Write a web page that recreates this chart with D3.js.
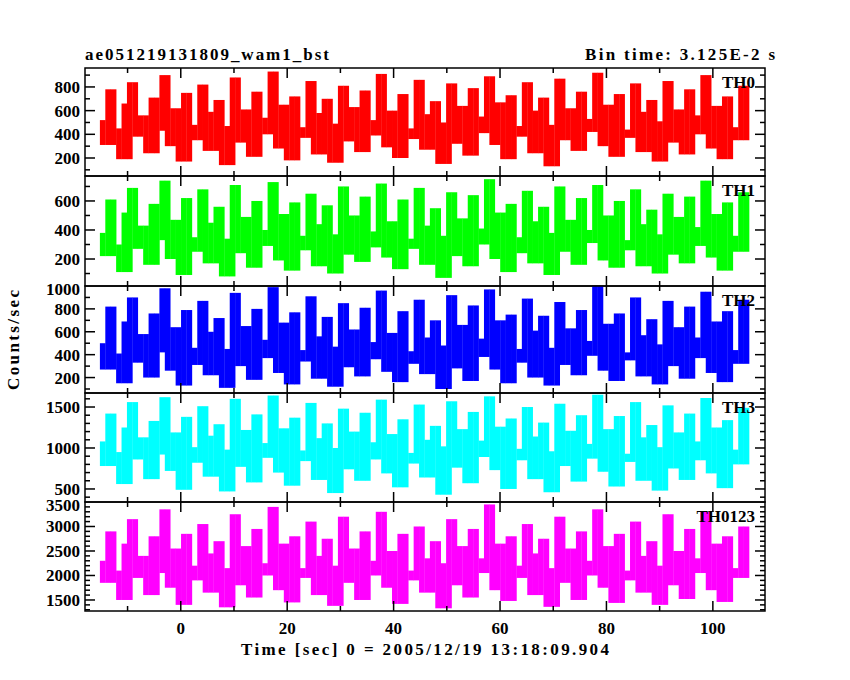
<!DOCTYPE html>
<html><head><meta charset="utf-8">
<script src="https://cdn.jsdelivr.net/npm/d3@7"></script>
<style>body{margin:0;background:#fff}text{font-family:"Liberation Serif",serif;font-size:17px;font-weight:bold;fill:#000}</style>
</head><body><svg id="c" width="850" height="680"></svg>
<script>
// Light curve counts per panel (hand read, resampled coarse).
var th0 = [520,310,780,450,190,660,840,380,560,240,710,430,900,300,620,170,750,480,350,820,260,590,690,140,470,880,330,610,210,760,540,400,930,280,650,180,720,460,370,850,230,580,700,160,490,810,340,630,250,770,520,390,910,290,600,200,740,450,360,860,270,570,680,150,500,830,320,640,220,790,550,410,890,310,670,190,730,470,380,840,240,600,710,130,480,870,350,620,260,760,530,420,920,300,650,210,740,440,370,830,250,590,690,170,510,850,330,610,230,780,560,400,900,280,640,190,720,460,350,810];
var th1 = [380,220,610,300,110,520,690,270,430,160,580,330,740,200,470,90,620,350,250,680,170,450,560,80,340,710,240,490,140,600,400,290,730,190,510,120,590,360,260,650,150,440,570,100,370,700,230,500,180,630,390,280,720,210,460,130,610,340,270,690,160,430,550,70,360,660,220,480,150,640,410,300,750,200,520,110,580,350,240,670,170,460,560,90,380,700,250,470,160,620,400,310,710,190,500,140,600,330,260,680,150,440,540,100,370,650,230,490,170,630,420,290,740,210,510,120,590,360,250,660];
var th2 = [500,270,820,410,150,690,900,330,580,200,760,420,980,260,640,130,790,460,310,870,220,600,720,110,450,940,300,650,180,800,530,370,990,240,680,140,770,440,340,910,190,560,730,120,470,850,290,620,210,810,510,360,960,250,590,160,780,430,320,880,230,550,700,100,480,920,280,660,170,830,540,380,970,270,700,150,750,450,330,890,200,610,740,130,460,860,310,630,220,790,520,390,1000,260,670,170,760,420,350,900,210,570,710,140,490,870,300,640,190,820,550,370,950,240,690,160,780,440,320,880];
var th3 = [1080,780,1420,950,560,1250,1560,860,1130,620,1330,920,1620,720,1190,490,1380,1010,820,1510,650,1150,1290,470,980,1600,770,1220,580,1410,1060,880,1640,700,1240,540,1370,970,840,1550,610,1120,1300,450,1000,1480,740,1200,600,1430,1070,860,1590,690,1170,520,1350,940,810,1530,640,1100,1270,430,1020,1570,760,1230,570,1440,1090,890,1630,730,1260,500,1360,990,850,1500,620,1140,1310,460,960,1540,780,1210,590,1400,1050,870,1650,710,1230,530,1390,930,830,1560,600,1130,1280,480,1010,1520,750,1190,610,1420,1080,850,1610,690,1250,510,1340,980,800,1490];
var th0123 = [2300,1850,2900,2100,1500,2650,3150,1950,2400,1600,2800,2050,3350,1750,2550,1400,2850,2200,1900,3050,1650,2450,2700,1350,2150,3250,1800,2600,1550,2950,2250,2000,3400,1700,2650,1450,2800,2150,1950,3100,1600,2400,2750,1380,2200,3200,1850,2550,1500,2900,2300,2000,3300,1750,2500,1420,2850,2100,1900,3000,1650,2350,2700,1330,2250,3150,1800,2600,1550,2950,2350,2050,3450,1700,2650,1480,2800,2200,1950,3050,1600,2450,2750,1360,2150,3200,1850,2550,1500,2900,2300,2000,3350,1750,2600,1440,2850,2100,1900,3100,1650,2400,2700,1400,2200,3250,1800,2500,1520,2950,2350,2050,3300,1700,2650,1460,2800,2150,1950,3000];

var panelNames = ['TH0', 'TH1', 'TH2', 'TH3', 'TH0123'];
var panelData = [th0, th1, th2, th3, th0123];
var panelColors = ['#ff0000', '#00ff00', '#0000ff', '#00ffff', '#ff00ff'];
var panelDomains = [[48, 960], [14, 772], [65, 1000], [341, 1671], [1275, 3500]];
var panelTicks = [[200, 400, 600, 800], [200, 400, 600], [200, 400, 600, 800, 1000], [500, 1000, 1500], [1500, 2000, 2500, 3000, 3500]];
var panelMinor = [100, 100, 100, 100, 100];
var tStart = -15.2, tEnd = 106.8;
var xTicks = [0, 20, 40, 60, 80, 100];

var svg = d3.select('#c');
var left = 85, right = 765;
var edges = [68, 176, 286, 393, 502, 611];
var x = d3.scaleLinear().domain([-18, 109.8]).range([left, right]);

panelData.forEach(function(vals, p) {
  var top = edges[p], bot = edges[p + 1];
  var y = d3.scaleLinear().domain(panelDomains[p]).range([bot, top]);
  var dt = (tEnd - tStart) / vals.length;
  var g = svg.append('g');
  g.append('clipPath').attr('id', 'cl' + p).append('rect')
    .attr('x', left).attr('y', top).attr('width', right - left).attr('height', bot - top);
  // each bin drawn as the band its neighbours span (dense light curve look)
  var bins = vals.map(function(v, i) {
    return {
      t: tStart + i * dt,
      lo: d3.min(vals.slice(Math.max(0, i - 1), i + 2)),
      hi: d3.max(vals.slice(i, i + 2))
    };
  });
  g.append('g').attr('clip-path', 'url(#cl' + p + ')')
    .selectAll('rect').data(bins).enter().append('rect')
    .attr('x', function(d) { return x(d.t); })
    .attr('width', x(tStart + dt) - x(tStart) + 0.3)
    .attr('y', function(d) { return y(d.hi); })
    .attr('height', function(d) { return Math.max(1, y(d.lo) - y(d.hi)); })
    .attr('fill', panelColors[p]);

  // y ticks both sides, inside
  var minors = d3.range(Math.ceil(panelDomains[p][0] / panelMinor[p]) * panelMinor[p], panelDomains[p][1], panelMinor[p]);
  minors.forEach(function(v) {
    var major = panelTicks[p].indexOf(v) >= 0;
    var len = major ? 10 : 5;
    [[left, len], [right, -len]].forEach(function(s) {
      g.append('line').attr('x1', s[0]).attr('x2', s[0] + s[1])
        .attr('y1', y(v)).attr('y2', y(v)).attr('stroke', '#000').attr('stroke-width', 1.5);
    });
  });
  panelTicks[p].forEach(function(v) {
    g.append('text').attr('x', left - 5).attr('y', Math.max(y(v) + 6, top + 9))
      .attr('text-anchor', 'end').text(v);
  });

  // x ticks top and bottom, inside
  d3.range(-10, 110, 10).forEach(function(t) {
    var len = t % 20 === 0 ? 10 : 5;
    [[top, len], [bot, -len]].forEach(function(s) {
      g.append('line').attr('x1', x(t)).attr('x2', x(t))
        .attr('y1', s[0]).attr('y2', s[0] + s[1]).attr('stroke', '#000').attr('stroke-width', 1.5);
    });
  });

  g.append('rect').attr('x', left).attr('y', top).attr('width', right - left)
    .attr('height', bot - top).attr('fill', 'none').attr('stroke', '#000').attr('stroke-width', 1.5);
  g.append('text').attr('x', 755).attr('y', top + 20).attr('text-anchor', 'end').text(panelNames[p]);
});

xTicks.forEach(function(t) {
  svg.append('text').attr('x', x(t)).attr('y', 634).attr('text-anchor', 'middle').text(t);
});
svg.append('text').attr('x', 241).attr('y', 655).attr('textLength', 368)
  .text('Time [sec] 0 = 2005/12/19 13:18:09.904');
svg.append('text').attr('transform', 'translate(19,340) rotate(-90)')
  .attr('text-anchor', 'middle').attr('textLength', 100).text('Counts/sec');
svg.append('text').attr('x', 85).attr('y', 60).attr('textLength', 244).text('ae051219131809_wam1_bst');
svg.append('text').attr('x', 585).attr('y', 60).attr('textLength', 190).text('Bin time: 3.125E-2 s');
</script></body></html>
